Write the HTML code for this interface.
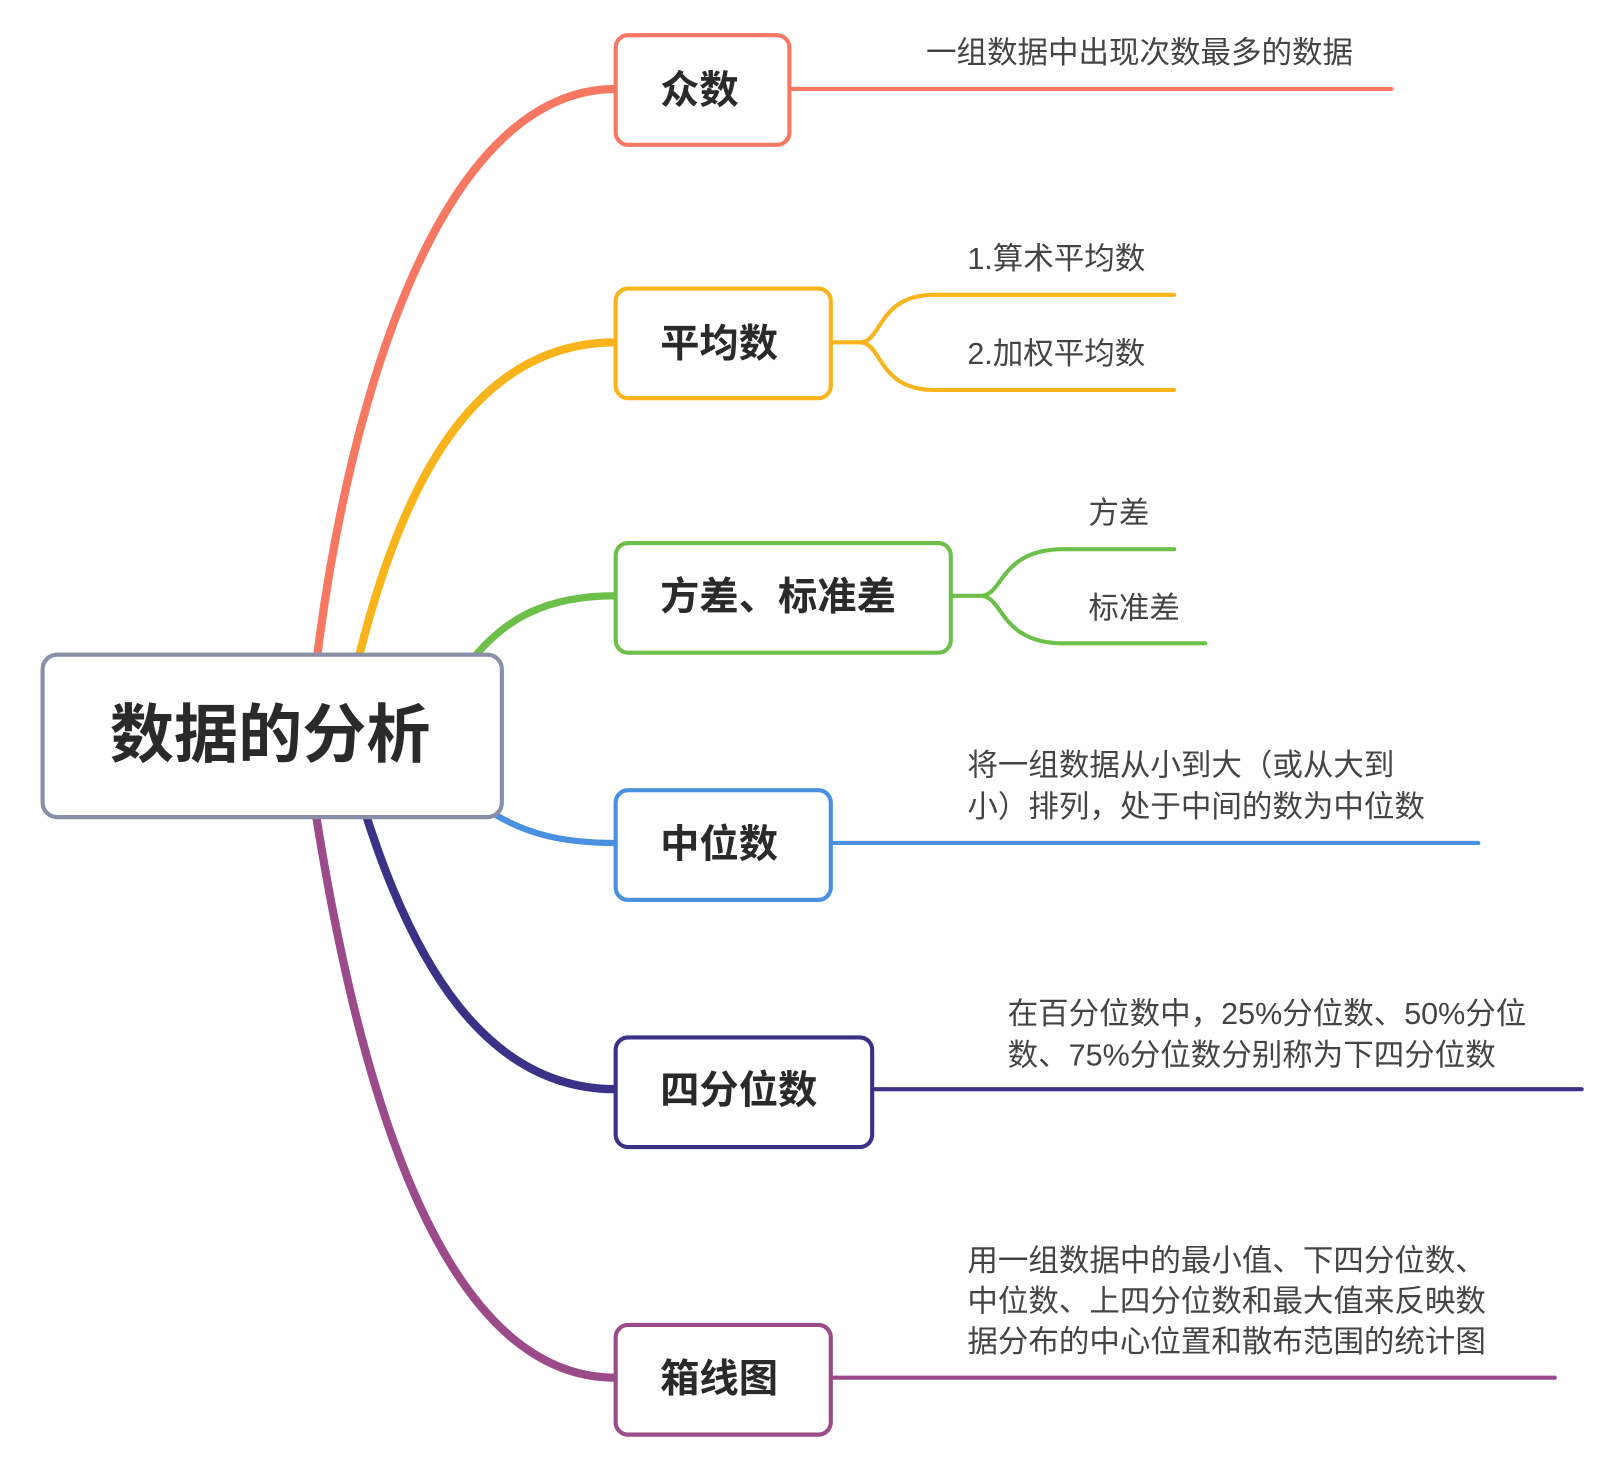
<!DOCTYPE html>
<html><head><meta charset="utf-8"><style>
html,body{margin:0;padding:0;background:#fff}
svg{display:block}
text{font-family:"Liberation Sans","Noto Sans CJK SC",sans-serif}
.t{font-size:29.5px;fill:#444}
.n{font-size:38px;font-weight:bold;fill:#2a2a2a}
</style></head><body>
<svg width="1614" height="1476" viewBox="2 2 1560 1427" xmlns="http://www.w3.org/2000/svg">
<g fill="none" stroke-linecap="round">
<path d="M308,640 C340,380 430,88 597,88" stroke="#f77862" stroke-width="8"/>
<path d="M348,640 C390,470 460,333 597,333" stroke="#f8b41a" stroke-width="8"/>
<path d="M458,640 C490,600 530,578 597,578" stroke="#6cc04a" stroke-width="7"/>
<path d="M478,788 C510,808 545,817 597,817" stroke="#4a90e0" stroke-width="6"/>
<path d="M355,788 C400,930 470,1055 597,1055" stroke="#3b3187" stroke-width="8"/>
<path d="M307,788 C350,1060 430,1334 597,1334" stroke="#9b4a8a" stroke-width="8"/>
<path d="M765,88 H1347" stroke="#f77862" stroke-width="4"/>
<path d="M805,333 H833 C855,333 850,287 905,287 H1137 M833,333 C855,333 850,379 905,379 H1137" stroke="#f8b41a" stroke-width="4"/>
<path d="M921,578 H950 C972,578 968,533 1030,533 H1137 M950,578 C972,578 968,624 1030,624 H1167" stroke="#6cc04a" stroke-width="4"/>
<path d="M805,817 H1431" stroke="#4a90e0" stroke-width="4"/>
<path d="M845,1055 H1531" stroke="#3b3187" stroke-width="4"/>
<path d="M805,1334 H1505" stroke="#9b4a8a" stroke-width="4"/>
</g>
<g fill="#fff" stroke-width="4">
<rect x="43" y="635" width="444" height="157" rx="14" stroke="#8a8fa8"/>
<rect x="597" y="36" width="168" height="106" rx="12" stroke="#f77862"/>
<rect x="597" y="281" width="208" height="106" rx="12" stroke="#f8b41a"/>
<rect x="597" y="527" width="324" height="106" rx="12" stroke="#6cc04a"/>
<rect x="597" y="766" width="208" height="106" rx="12" stroke="#4a90e0"/>
<rect x="597" y="1005" width="248" height="106" rx="12" stroke="#3b3187"/>
<rect x="597" y="1283" width="208" height="106" rx="12" stroke="#9b4a8a"/>
</g>
<text x="263" y="734" text-anchor="middle" style="font-size:62px;font-weight:bold;fill:#2a2a2a">数据的分析</text>
<text class="n" x="640" y="102">众数</text>
<text class="n" x="640" y="347">平均数</text>
<text class="n" x="640" y="592">方差、标准差</text>
<text class="n" x="640" y="831">中位数</text>
<text class="n" x="640" y="1069">四分位数</text>
<text class="n" x="640" y="1348">箱线图</text>
<text class="t" x="897" y="63">一组数据中出现次数最多的数据</text>
<text class="t" x="937" y="262">1.算术平均数</text>
<text class="t" x="937" y="354">2.加权平均数</text>
<text class="t" x="1054" y="508">方差</text>
<text class="t" x="1054" y="600">标准差</text>
<text class="t" x="937" y="752">将一组数据从小到大（或从大到</text>
<text class="t" x="937" y="792">小）排列，处于中间的数为中位数</text>
<text class="t" x="976" y="992">在百分位数中，25%分位数、50%分位</text>
<text class="t" x="976" y="1032">数、75%分位数分别称为下四分位数</text>
<text class="t" x="937" y="1231">用一组数据中的最小值、下四分位数、</text>
<text class="t" x="937" y="1270">中位数、上四分位数和最大值来反映数</text>
<text class="t" x="937" y="1309">据分布的中心位置和散布范围的统计图</text>
</svg>
</body></html>
